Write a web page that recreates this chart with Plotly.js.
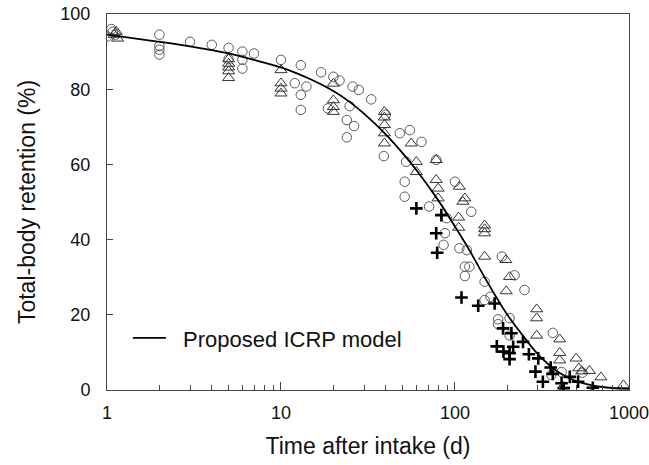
<!DOCTYPE html>
<html>
<head>
<meta charset="utf-8">
<script src="https://cdn.plot.ly/plotly-3.0.1.min.js"></script>
<style>html,body{margin:0;padding:0;background:#fff;}#chart{width:649px;height:465px;}</style>
</head>
<body>
<div id="chart"></div>
<script>
// Proposed ICRP model curve
const modelT = [1, 2, 3, 5, 7, 10, 15, 20, 25, 30, 40, 50, 60, 80, 100, 120, 150, 200, 250, 300, 400, 500, 700, 1000];
const modelR = [94.5, 92.6, 91.4, 89.5, 87.8, 85.8, 82.5, 79.5, 76.5, 73.5, 68, 63, 58.5, 50.5, 43.5, 37.5, 29.5, 20, 14, 9.5, 4.5, 2.3, 0.8, 0.3];

// Open circles
const circT = [1, 1.06, 1.08, 1.12, 2, 2, 2, 2, 3, 4, 5, 5, 6, 6, 6, 7, 10, 12, 13, 13, 13, 14, 17, 20, 21.7, 18.6,
  25.8, 28, 33, 24.8, 23.9, 26.3, 23.9, 40, 39, 48.2, 55, 64.2, 52.4, 78, 51.4, 100, 51.4, 71, 124, 89.6, 87.6, 86,
  106, 117, 114, 121, 114, 186, 220, 148, 251, 148, 160, 177, 177, 206, 206, 365, 358, 410, 540];
const circR = [94, 96, 95.3, 94.5, 94.5, 91.5, 90.5, 89.2, 92.6, 91.8, 91, 88, 90, 87.8, 85.5, 89.5, 87.8, 81.6, 86.4, 78.5, 74.5, 80.7, 84.5, 83.3, 82.3, 74.9,
  80.7, 79.8, 77.3, 75.5, 71.8, 70.2, 67.2, 73.2, 62.2, 68.3, 69.1, 66, 60.7, 61.2, 55.4, 55.4, 51.4, 48.8, 47.4, 45.7, 41.7, 38.6,
  37.7, 37.2, 32.8, 32.8, 30.3, 35.5, 30.5, 28.8, 26.6, 23.9, 24.8, 18.8, 17.5, 19.1, 14.5, 15.2, 4, 4.8, 4.6];

// Open triangles
const triT = [1.13, 1.15, 1.1, 5, 5, 5, 5, 5, 10, 10, 10, 10, 20, 20, 20, 20, 39.3, 39.3, 39.3, 39.3, 39.3, 56, 60, 60, 78, 78, 80,
  106, 80, 114, 111, 105, 105, 148, 148, 148, 148, 196, 206, 197, 295, 295, 295, 400, 400, 400, 497, 515, 535, 593, 690, 930];
const triR = [95.3, 93.5, 94.5, 88, 86.8, 85.8, 84.8, 83, 85.1, 81.6, 80.2, 78.9, 81.5, 77.1, 75.3, 74, 74, 72.5, 70.5, 68.3, 65.6, 65.6, 60.7, 58, 61.2, 55.9, 53.6,
  54.1, 51, 51, 50.1, 45.9, 43.2, 43.8, 42.8, 41.7, 35.5, 34.6, 30.1, 26.3, 21.5, 19.1, 14.5, 13.5, 9.9, 7.9, 8.4, 5.8, 5, 5.1, 3.4, 1.3];

// Crosses
const crossT = [60, 83.5, 78, 79, 109, 136, 169, 189, 211, 174, 190, 206, 206, 216, 246, 266, 301, 290, 320, 355, 365, 410, 422, 457, 510, 620];
const crossR = [48.3, 46.5, 41.7, 36.5, 24.6, 22.4, 23, 16.4, 15.1, 11.6, 10.2, 9.8, 8.2, 11.5, 12.8, 9.5, 8.4, 4.9, 2.2, 6, 4.3, 1.8, 0.5, 3.5, 2.2, 0.6];

// Axis ticks
const xTickVals = [1, 10, 100, 1000];
const xTickText = ['1', '10', '100', '1000'];
const xMinorVals = [2,3,4,5,6,7,8,9,20,30,40,50,60,70,80,90,200,300,400,500,600,700,800,900];
const yTickVals = [0, 20, 40, 60, 80, 100];

const FONT = 'Liberation Sans, Arial, sans-serif';

const traces = [
  {x: circT, y: circR, type: 'scatter', mode: 'markers', showlegend: false,
   marker: {symbol: 'circle-open', size: 9.5, color: '#5a5a5a', line: {width: 1}}},
  {x: triT, y: triR, type: 'scatter', mode: 'markers', showlegend: false,
   marker: {symbol: 'triangle-up-open', size: 10.5, color: '#333', line: {width: 1}}},
  {x: crossT, y: crossR, type: 'scatter', mode: 'markers', showlegend: false,
   marker: {symbol: 'cross-thin-open', size: 9, color: '#000', line: {width: 2.6}}},
  {x: modelT, y: modelR, type: 'scatter', mode: 'lines', name: '\u00a0\u00a0Proposed ICRP model',
   line: {color: '#000', width: 1.8, shape: 'spline', smoothing: 0.8}}
];

const layout = {
  width: 649, height: 465,
  margin: {l: 107, r: 20, t: 14, b: 75},
  paper_bgcolor: '#fff', plot_bgcolor: '#fff',
  font: {family: FONT, color: '#111'},
  showlegend: true,
  legend: {x: 0.04, y: 0.138, xanchor: 'left', yanchor: 'middle', bgcolor: 'rgba(0,0,0,0)',
           itemwidth: 33,
           font: {size: 22, family: FONT, color: '#111'}},
  xaxis: {
    type: 'log', range: [0, 3.0002],
    tickmode: 'array', tickvals: xTickVals, ticktext: xTickText,
    ticks: 'inside', ticklen: 8, tickcolor: '#444', tickwidth: 1,
    minor: {tickmode: 'array', tickvals: xMinorVals, ticks: 'inside', ticklen: 5, tickcolor: '#444', showgrid: false},
    showgrid: false, zeroline: false,
    showline: true, linecolor: '#444', linewidth: 1, mirror: true,
    tickfont: {size: 18, family: FONT, color: '#111'},
    ticklabelstandoff: 6,
    title: {text: 'Time after intake (d)', font: {size: 23, family: FONT, color: '#111'}, standoff: 16}
  },
  yaxis: {
    range: [0, 100],
    tickmode: 'array', tickvals: yTickVals,
    ticks: 'inside', ticklen: 6, tickcolor: '#444', tickwidth: 1,
    showgrid: false, zeroline: false,
    showline: true, linecolor: '#444', linewidth: 1, mirror: true,
    tickfont: {size: 18, family: FONT, color: '#111'},
    ticklabelstandoff: 12,
    title: {text: 'Total-body retention (%)', font: {size: 23, family: FONT, color: '#111'}, standoff: 18}
  }
};

Plotly.newPlot('chart', traces, layout, {displayModeBar: false, staticPlot: true});
</script>
</body>
</html>
